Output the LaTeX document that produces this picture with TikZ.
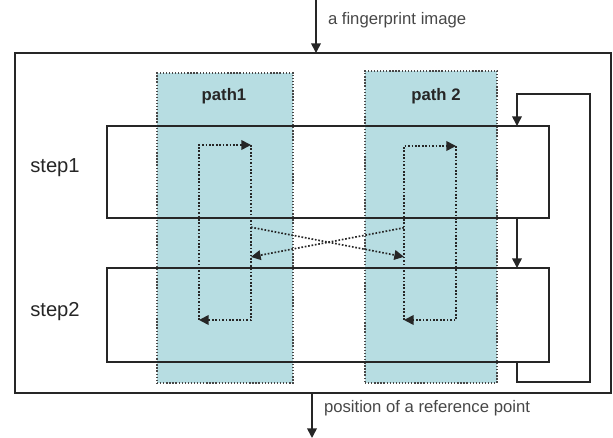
\documentclass[tikz,border=0pt]{standalone}
\usepackage{fontspec}
\setmainfont{Liberation Sans}
\usetikzlibrary{
  arrows.meta,
  positioning,
  calc
}
\definecolor{lanefill}{RGB}{183,221,226}
\definecolor{ink}{RGB}{38,38,38}

\begin{document}
\begin{tikzpicture}[
  x=0.02cm, y=-0.02cm,
  every node/.style={inner sep=0pt, outer sep=0pt, text=ink},
  outerbox/.style={draw=ink, line width=1.1pt},
  lanebox/.style={draw=ink!85, fill=lanefill, densely dotted, line width=0.75pt},
  stepbox/.style={draw=ink, line width=1pt, minimum width=8.84cm},
  flow/.style={draw=ink, line width=0.9pt, -{Triangle[length=5.5pt,width=5.5pt]}},
  trace/.style={draw=ink, densely dotted, line width=0.95pt, -{Triangle[length=5.5pt,width=5.5pt]}},
  caption/.style={font=\fontsize{9.5}{11}\selectfont, anchor=west, text=ink!85},
  steptitle/.style={font=\fontsize{11.5}{13}\selectfont},
  lanetitle/.style={font=\fontsize{9.5}{12}\selectfont\bfseries},
]
\useasboundingbox (0,0) rectangle (613,438);

\node[outerbox, minimum width=11.92cm, minimum height=6.8cm] (frame) at (313,223) {};

\node[lanebox, minimum width=2.72cm, minimum height=6.2cm] (lane1) at (225,228) {};
\node[lanebox, minimum width=2.64cm, minimum height=6.24cm] (lane2) at (431,227) {};
\node[lanetitle] (t1) at (224,96) {path1};
\node[lanetitle] (t2) at (436,96) {path 2};

\node[stepbox, minimum height=1.84cm] (step1) at (328,172) {};
\node[stepbox, minimum height=1.88cm] (step2) at (328,315) {};
\node[steptitle] (s1) at (55,168) {step1};
\node[steptitle] (s2) at (55,312) {step2};

% input and output
\coordinate (in) at (316,0);
\draw[flow] (in) -- (in |- frame.north);
\node[caption] (incap) at (328,20) {a fingerprint image};
\coordinate (out) at (312,438);
\draw[flow] (out |- frame.south) -- (out);
\node[caption] (outcap) at (324,408) {position of a reference point};

% step order and repetition
\coordinate (fb) at (517,0);
\coordinate (fbtop) at (590,94);
\coordinate (fbbot) at (590,382);
\draw[flow] (fb |- step1.south) -- (fb |- step2.north);
\draw[flow] (fb |- step2.south) -- (fb |- fbbot) -- (fbbot) -- (fbtop)
  -- (fb |- fbtop) -- (fb |- step1.north);

% traces inside the paths
\coordinate (a1) at (199,145);
\coordinate (b1) at (251,145);
\coordinate (c1) at (251,320);
\coordinate (d1) at (199,320);
\coordinate (a2) at (404,146);
\coordinate (b2) at (456,146);
\coordinate (c2) at (456,320);
\coordinate (d2) at (404,320);
\draw[trace] (d1) -- (a1) -- (b1);
\draw[trace] (b1) -- (c1) -- (d1);
\draw[trace] (d2) -- (a2) -- (b2);
\draw[trace] (b2) -- (c2) -- (d2);

% exchange between the paths
\draw[trace] ($(b1)!0.47!(c1)$) -- ($(a2)!0.637!(d2)$);
\draw[trace] ($(a2)!0.47!(d2)$) -- ($(b1)!0.64!(c1)$);

\end{tikzpicture}
\end{document}
